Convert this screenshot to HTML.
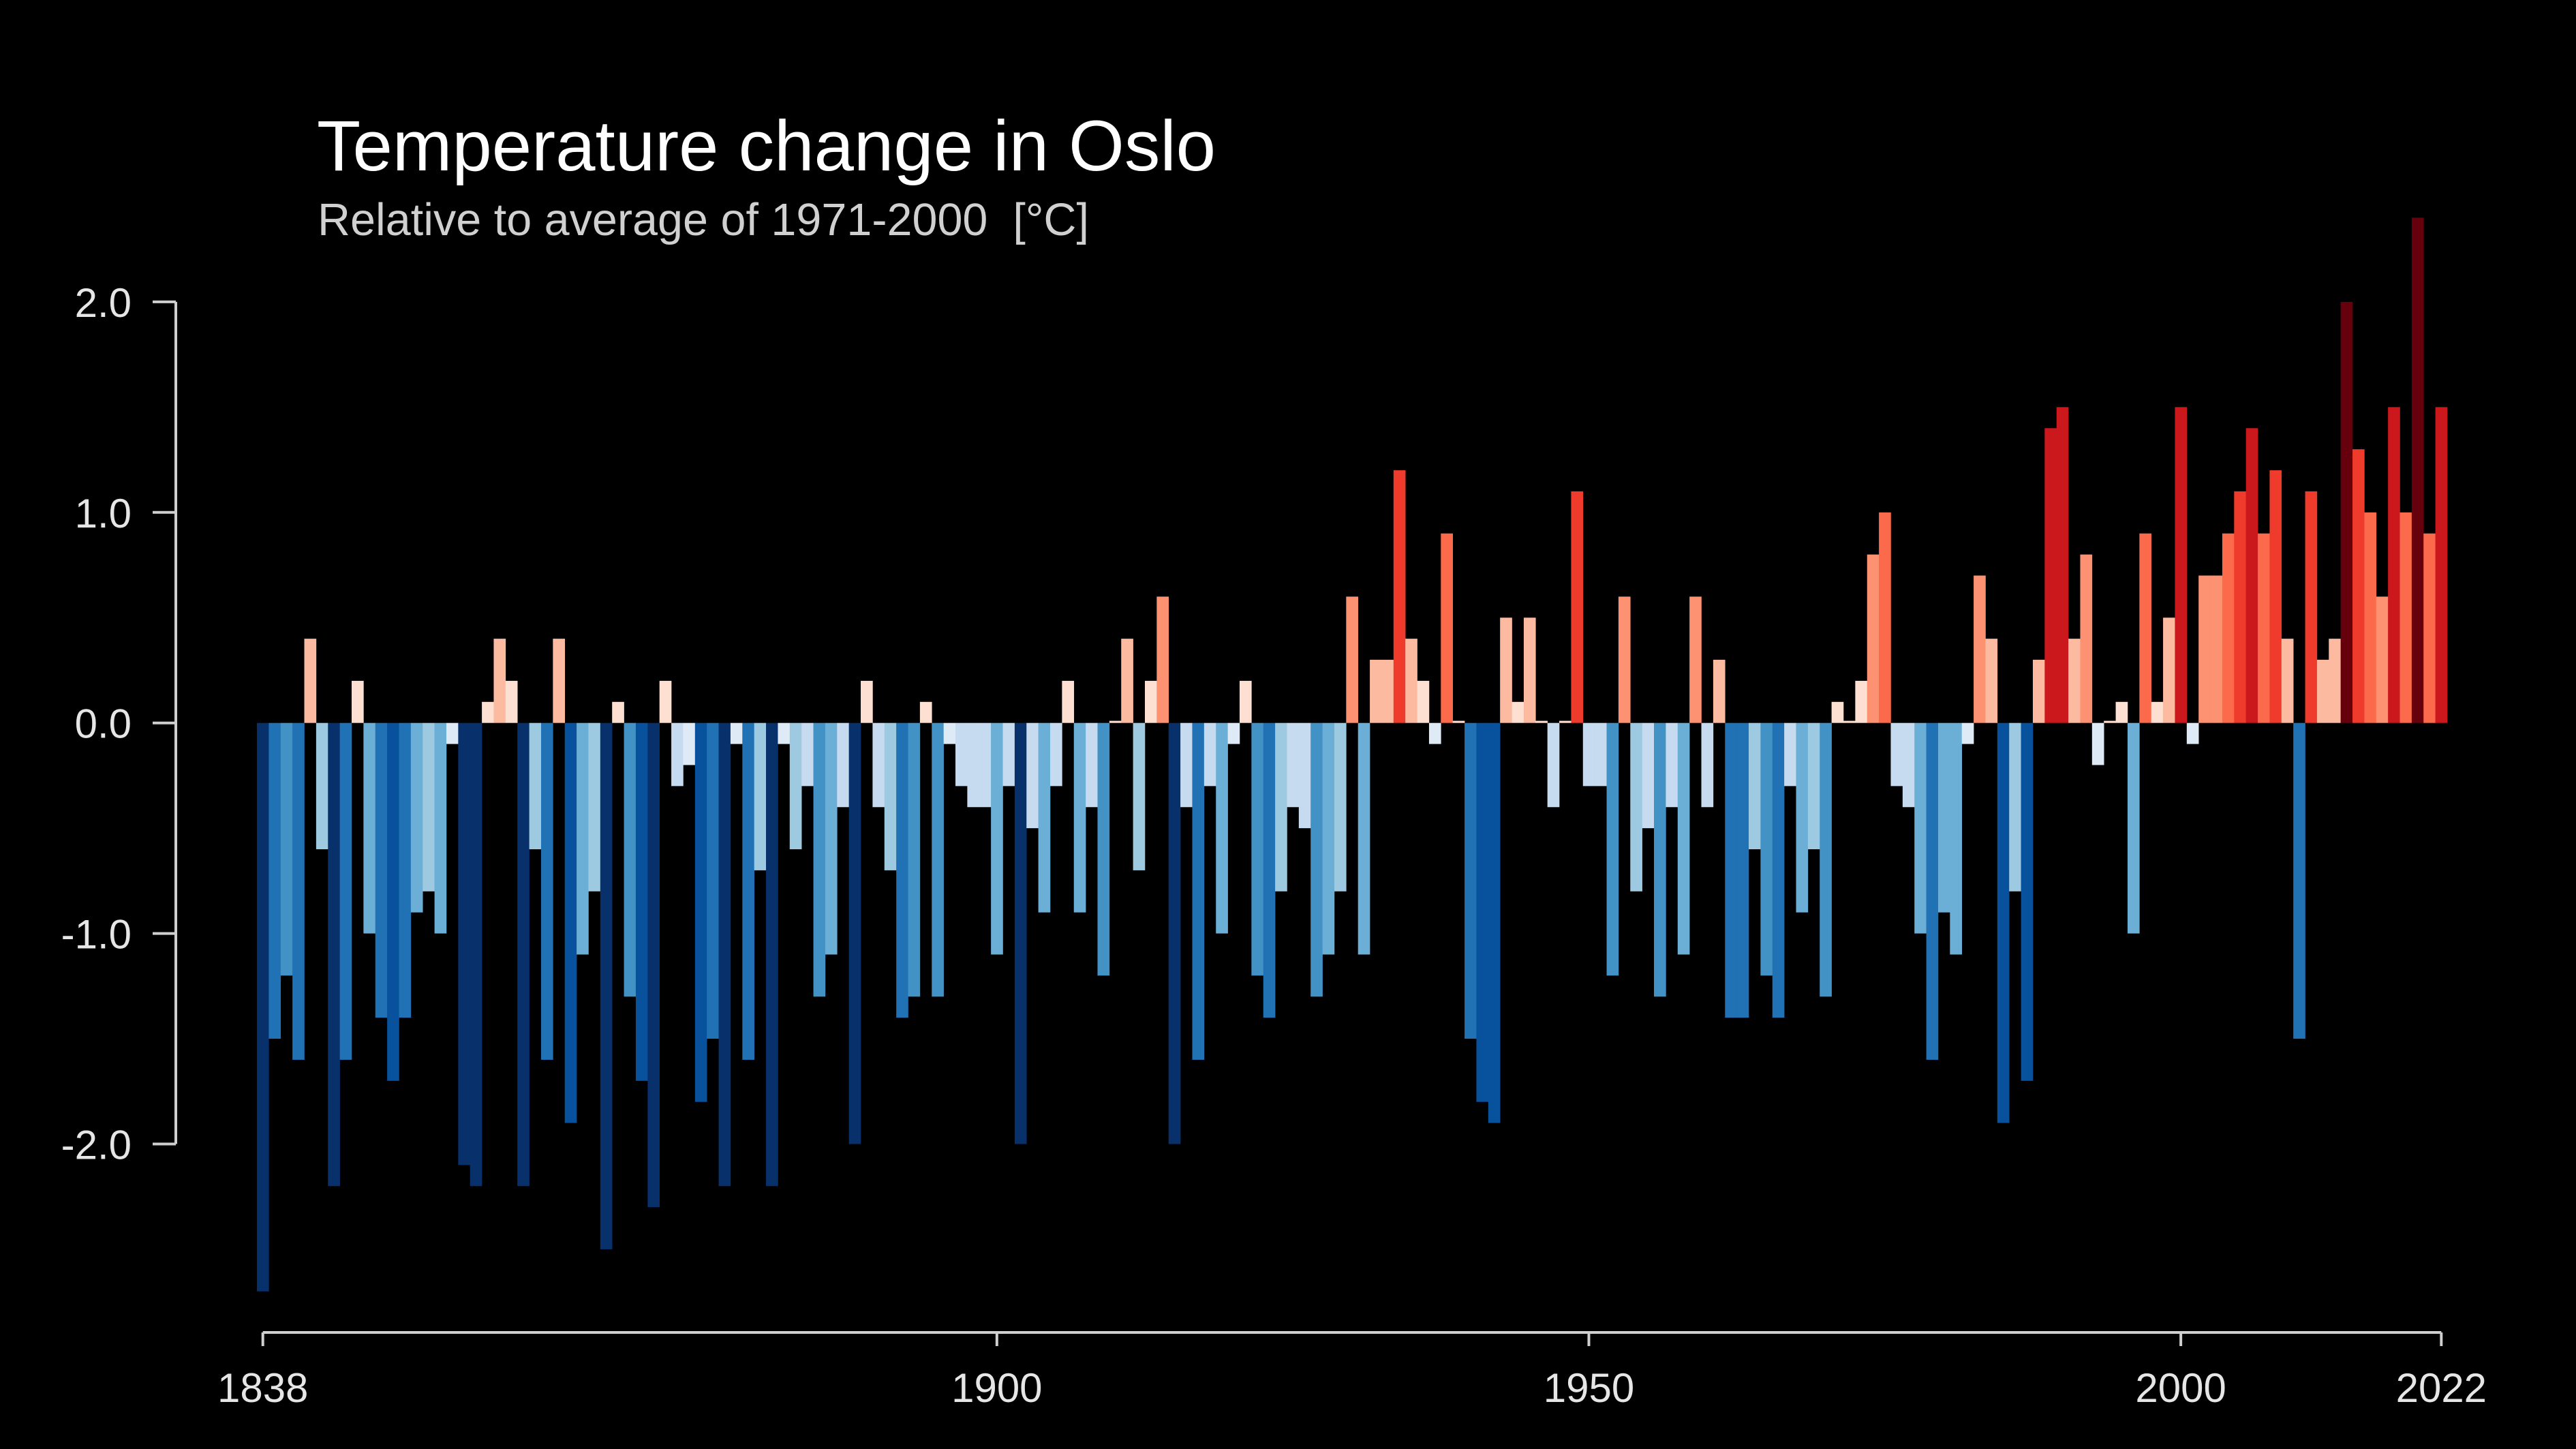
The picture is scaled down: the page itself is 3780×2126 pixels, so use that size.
<!DOCTYPE html>
<html><head><meta charset="utf-8"><style>
html,body{margin:0;padding:0;background:#000;}
svg{display:block;font-family:"Liberation Sans",sans-serif;}
</style></head><body>
<svg id="chart" width="3780" height="2126" viewBox="0 0 3780 2126" xmlns="http://www.w3.org/2000/svg">
<rect width="3780" height="2126" fill="#000"/>
<text x="465" y="250" fill="#fff" font-size="105">Temperature change in Oslo</text>
<text x="466" y="345" fill="#d0d0d0" font-size="66.5">Relative to average of 1971-2000 &#160;[°C]</text>
<g id="bars"></g>
<g id="yaxis"></g>
<g id="xaxis"></g>
</svg>
<script>
const startYear = 1838;
const anomalies = [
-2.7,-1.5,-1.2,-1.6,0.4,-0.6,-2.2,-1.6,0.2,-1.0,
-1.4,-1.7,-1.4,-0.9,-0.8,-1.0,-0.1,-2.1,-2.2,0.1,
0.4,0.2,-2.2,-0.6,-1.6,0.4,-1.9,-1.1,-0.8,-2.5,
0.1,-1.3,-1.7,-2.3,0.2,-0.3,-0.2,-1.8,-1.5,-2.2,
-0.1,-1.6,-0.7,-2.2,-0.1,-0.6,-0.3,-1.3,-1.1,-0.4,
-2.0,0.2,-0.4,-0.7,-1.4,-1.3,0.1,-1.3,-0.1,-0.3,
-0.4,-0.4,-1.1,-0.3,-2.0,-0.5,-0.9,-0.3,0.2,-0.9,
-0.4,-1.2,0.01,0.4,-0.7,0.2,0.6,-2.0,-0.4,-1.6,
-0.3,-1.0,-0.1,0.2,-1.2,-1.4,-0.8,-0.4,-0.5,-1.3,
-1.1,-0.8,0.6,-1.1,0.3,0.3,1.2,0.4,0.2,-0.1,
0.9,0.01,-1.5,-1.8,-1.9,0.5,0.1,0.5,0.01,-0.4,
0.01,1.1,-0.3,-0.3,-1.2,0.6,-0.8,-0.5,-1.3,-0.4,
-1.1,0.6,-0.4,0.3,-1.4,-1.4,-0.6,-1.2,-1.4,-0.3,
-0.9,-0.6,-1.3,0.1,0.01,0.2,0.8,1.0,-0.3,-0.4,
-1.0,-1.6,-0.9,-1.1,-0.1,0.7,0.4,-1.9,-0.8,-1.7,
0.3,1.4,1.5,0.4,0.8,-0.2,0.01,0.1,-1.0,0.9,
0.1,0.5,1.5,-0.1,0.7,0.7,0.9,1.1,1.4,0.9,
1.2,0.4,-1.5,1.1,0.3,0.4,2.0,1.3,1.0,0.6,
1.5,1.0,2.4,0.9,1.5
];
const yTicks = [2.0, 1.0, 0.0, -1.0, -2.0];
const yTickLabels = ["2.0", "1.0", "0.0", "-1.0", "-2.0"];
const xTicks = [1838, 1900, 1950, 2000, 2022];

const NS = "http://www.w3.org/2000/svg";
const X0 = 385.7, PX_YEAR = 17.373, Y0 = 1060.7, PX_DEG = 308.9;
function xScale(year){ return X0 + (year - startYear) * PX_YEAR; }
function yScale(v){ return Y0 - v * PX_DEG; }
function colorFor(v){
  if (v >= 0) {
    if (v < 0.25) return "#fee0d2";
    if (v < 0.55) return "#fcbba1";
    if (v < 0.85) return "#fc9272";
    if (v < 1.05) return "#fb6a4a";
    if (v < 1.35) return "#ef3b2c";
    if (v < 1.65) return "#cb181d";
    if (v < 1.95) return "#a50f15";
    return "#67000d";
  }
  if (v > -0.25) return "#deebf7";
  if (v > -0.55) return "#c6dbef";
  if (v > -0.85) return "#9ecae1";
  if (v > -1.15) return "#6baed6";
  if (v > -1.35) return "#4292c6";
  if (v > -1.65) return "#2171b5";
  if (v > -1.95) return "#08519c";
  return "#08306b";
}
function mk(tag, attrs, parent){
  const e = document.createElementNS(NS, tag);
  for (const k in attrs) e.setAttribute(k, attrs[k]);
  parent.appendChild(e);
  return e;
}
const bars = document.getElementById("bars");
anomalies.forEach((v, i) => {
  const year = startYear + i;
  const x = xScale(year) - PX_YEAR / 2;
  const y1 = yScale(Math.max(v, 0)), y2 = yScale(Math.min(v, 0));
  const r = mk("rect", {x: x.toFixed(2), y: y1.toFixed(2), width: (PX_YEAR + 0.3).toFixed(2), height: Math.max(y2 - y1, 1).toFixed(2), fill: colorFor(v)}, bars);
  
  
});
const ya = document.getElementById("yaxis");
const yl = mk("line", {x1: 258, x2: 258, y1: yScale(yTicks[0]), y2: yScale(yTicks[yTicks.length-1]), stroke: "#cfcfcf", "stroke-width": 4}, ya);


yTicks.forEach((t, i) => {
  const tk = mk("line", {x1: 224, x2: 258, y1: yScale(t), y2: yScale(t), stroke: "#cfcfcf", "stroke-width": 4}, ya);
  
  
  const lb = mk("text", {x: 193, y: yScale(t) + 22, fill: "#e6e6e6", "font-size": 60, "text-anchor": "end"}, ya);
  lb.textContent = yTickLabels[i];
  
  
});
const xa = document.getElementById("xaxis");
const xl = mk("line", {x1: xScale(xTicks[0]), x2: xScale(xTicks[xTicks.length-1]), y1: 1955, y2: 1955, stroke: "#cfcfcf", "stroke-width": 4}, xa);


xTicks.forEach(t => {
  const tk = mk("line", {x1: xScale(t), x2: xScale(t), y1: 1955, y2: 1975, stroke: "#cfcfcf", "stroke-width": 4}, xa);
  
  
  const lb = mk("text", {x: xScale(t), y: 2057, fill: "#e6e6e6", "font-size": 60, "text-anchor": "middle"}, xa);
  lb.textContent = String(t);
  
  
});
</script>
</body></html>
